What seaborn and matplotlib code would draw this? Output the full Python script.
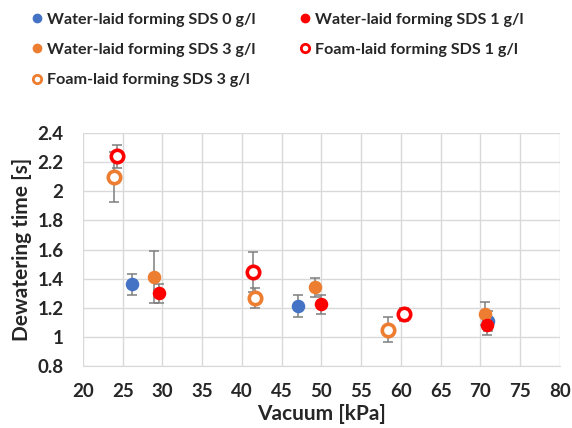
import matplotlib
matplotlib.use("Agg")
import matplotlib.pyplot as plt
import seaborn as sns
import pandas as pd
from matplotlib.lines import Line2D

# Data
labels = ["Water-laid forming SDS 0 g/l", "Water-laid forming SDS 3 g/l",
          "Foam-laid forming SDS 3 g/l", "Water-laid forming SDS 1 g/l",
          "Foam-laid forming SDS 1 g/l"]
sds0_x = [26.2, 47.1, 70.9]
sds0_y = [1.36, 1.21, 1.11]
sds0_e = [0.07, 0.075, 0.07]
sds3_x = [28.9, 49.2, 70.6]
sds3_y = [1.41, 1.34, 1.16]
sds3_e = [0.18, 0.065, 0.08]
foam3_x = [23.9, 41.7, 58.4]
foam3_y = [2.10, 1.265, 1.05]
foam3_e = [0.17, 0.07, 0.087]
sds1_x = [29.6, 49.9, 70.8]
sds1_y = [1.30, 1.225, 1.08]
sds1_e = [0.065, 0.065, 0.065]
foam1_x = [24.3, 41.4, 60.4]
foam1_y = [2.24, 1.443, 1.155]
foam1_e = [0.08, 0.137, 0.045]

xticks = list(range(20, 85, 5))
yticks = [0.8, 1.0, 1.2, 1.4, 1.6, 1.8, 2.0, 2.2, 2.4]
ytick_labels = ["0.8", "1", "1.2", "1.4", "1.6", "1.8", "2", "2.2", "2.4"]

sns.set_style("white")
plt.rcParams['font.family'] = ['Lato', 'DejaVu Sans']

fig = plt.figure(figsize=(5.72, 4.28), dpi=100)
ax = fig.add_axes([0.145, 0.145, 0.834, 0.544])

series = [
    (sds0_x, sds0_y, sds0_e, "#4472C4", True),
    (sds3_x, sds3_y, sds3_e, "#ED7D31", True),
    (foam3_x, foam3_y, foam3_e, "#ED7D31", False),
    (sds1_x, sds1_y, sds1_e, "#FF0000", True),
    (foam1_x, foam1_y, foam1_e, "#FF0000", False),
]

handles = []
for lab, (xs, ys, es, col, filled) in zip(labels, series):
    ax.errorbar(xs, ys, yerr=es, fmt="none", ecolor="#7f7f7f", elinewidth=1.1,
                capsize=3.5, capthick=1.1, zorder=2)
for lab, (xs, ys, es, col, filled) in zip(labels, series):
    df = pd.DataFrame({"x": xs, "y": ys})
    if filled:
        sns.scatterplot(data=df, x="x", y="y", ax=ax, s=95, color=col,
                        edgecolor=col, linewidth=0, zorder=3)
        h = Line2D([], [], marker="o", linestyle="none", markersize=6,
                   markerfacecolor=col, markeredgecolor=col)
    else:
        sns.scatterplot(data=df, x="x", y="y", ax=ax, s=80, facecolor="white",
                        edgecolor=col, linewidth=2.6, zorder=4)
        h = Line2D([], [], marker="o", linestyle="none", markersize=6,
                   markerfacecolor="white", markeredgecolor=col, markeredgewidth=2)
    handles.append(h)

ax.set_xlim(20, 80)
ax.set_ylim(0.8, 2.4)
ax.set_xticks(xticks)
ax.set_yticks(yticks)
ax.set_yticklabels(ytick_labels)
ax.grid(True, color="#d9d9d9", linewidth=1)
for s in ["top", "right", "left"]:
    ax.spines[s].set_visible(False)
ax.spines["bottom"].set_color("#d9d9d9")
ax.tick_params(axis="both", length=0, labelsize=13.5, colors="#262626")
ax.tick_params(axis="x", pad=12)
ax.tick_params(axis="y", pad=14)
for t in ax.get_xticklabels() + ax.get_yticklabels():
    t.set_fontweight("bold")
ax.set_xlabel("Vacuum [kPa]", fontsize=15, fontweight="bold", color="#262626", labelpad=3)
ax.set_ylabel("Dewatering time [s]", fontsize=15, fontweight="bold", color="#262626", labelpad=4)

fig.legend(handles, labels, ncol=2, loc="upper left", bbox_to_anchor=(0.025, 1.005),
           frameon=False, handletextpad=0.1, handlelength=1.0,
           columnspacing=2.6, labelspacing=1.0, prop={"weight": "bold", "size": 11.6})

fig.savefig("out.png", dpi=100)
